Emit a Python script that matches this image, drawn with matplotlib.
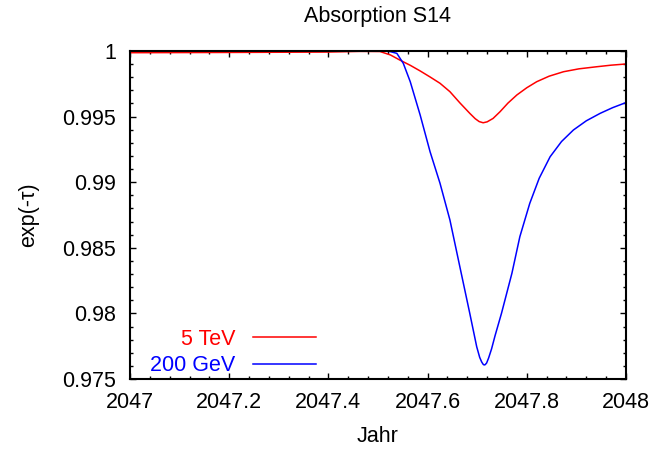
import matplotlib
matplotlib.use("Agg")
import matplotlib.pyplot as plt
from matplotlib.ticker import MultipleLocator, FuncFormatter

plt.rcParams["font.family"] = ["Liberation Sans", "DejaVu Sans"]

# values
year_5tev = [2047.0, 2047.2, 2047.397, 2047.464, 2047.504, 2047.525, 2047.544, 2047.565,
             2047.585, 2047.605, 2047.625, 2047.645, 2047.665, 2047.685, 2047.696,
             2047.704, 2047.712, 2047.720, 2047.732, 2047.746, 2047.762, 2047.780,
             2047.800, 2047.820, 2047.845, 2047.874, 2047.905, 2047.941, 2047.970,
             2048.0]
abs_5tev = [0.99987, 0.99989, 0.99992, 0.99997, 0.99996, 0.99970, 0.99931, 0.99891,
            0.99848, 0.99802, 0.99754, 0.99690, 0.99605, 0.99525, 0.99484,
            0.99462, 0.99453, 0.99460, 0.99486, 0.99537, 0.99603, 0.99665,
            0.99720, 0.99766, 0.99808, 0.99842, 0.99864, 0.99880, 0.99892,
            0.99901]

year_200gev = [2047.0, 2047.3, 2047.5, 2047.515, 2047.524, 2047.538, 2047.551, 2047.565,
               2047.585, 2047.605, 2047.625, 2047.645, 2047.665, 2047.685, 2047.699,
               2047.705, 2047.709, 2047.712, 2047.714, 2047.716, 2047.719, 2047.723,
               2047.729, 2047.736, 2047.749,
               2047.770, 2047.786, 2047.806, 2047.825, 2047.847, 2047.870, 2047.894,
               2047.920, 2047.948, 2047.973, 2048.0]
abs_200gev = [1.0, 1.0, 1.0, 0.99999, 0.99996, 0.99982, 0.99906, 0.99766,
              0.99512, 0.99232, 0.98992, 0.98712, 0.98356, 0.98001, 0.97746,
              0.97665, 0.97630, 0.97612, 0.97607, 0.97609, 0.97622, 0.97660,
              0.97730, 0.97830, 0.98001,
              0.98306, 0.98585, 0.98839, 0.99030, 0.99194, 0.99310, 0.99398,
              0.99468, 0.99525, 0.99568, 0.99607]

fig = plt.figure(figsize=(6.53, 4.5), dpi=100)
ax = fig.add_axes([130 / 653, 1 - 379 / 450, 496 / 653, 328 / 450])

ax.plot(year_5tev, abs_5tev, color="#ff0000", lw=1.1, label="5 TeV")
ax.plot(year_200gev, abs_200gev, color="#0000ff", lw=1.1, label="200 GeV")

ax.set_xlim(2047, 2048)
ax.set_ylim(0.975, 1.0)
ax.xaxis.set_major_locator(MultipleLocator(0.2))
ax.xaxis.set_minor_locator(MultipleLocator(0.04))
ax.yaxis.set_major_locator(MultipleLocator(0.005))
ax.yaxis.set_minor_locator(MultipleLocator(0.001))
fmt = FuncFormatter(lambda v, p: f"{round(v, 6):g}")
ax.xaxis.set_major_formatter(fmt)
ax.yaxis.set_major_formatter(fmt)

ax.tick_params(which="both", direction="in", top=True, right=True, width=1.0)
ax.tick_params(which="major", length=4.5, labelsize=15.5)
ax.tick_params(axis="x", which="major", pad=9)
ax.tick_params(axis="y", which="major", pad=10)
ax.tick_params(which="minor", length=2.2)
for s in ax.spines.values():
    s.set_linewidth(1.5)

ax.set_title("Absorption S14", fontsize=15.5, pad=21)
ax.set_xlabel("Jahr", fontsize=15.5, labelpad=10)
ax.set_ylabel("exp(-τ)", fontsize=15.5, labelpad=17)

ax.legend(loc="lower left", bbox_to_anchor=(0.04, 0.008), frameon=False,
          markerfirst=False, labelcolor="linecolor", fontsize=15.5,
          handlelength=2.9, handletextpad=0.85, labelspacing=0.25,
          borderpad=0, borderaxespad=0)

fig.savefig("out.png", dpi=100)
